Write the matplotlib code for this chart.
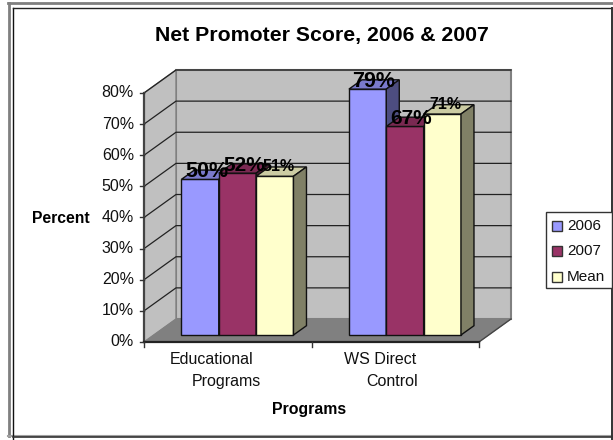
import matplotlib
matplotlib.use('Agg')
import matplotlib.pyplot as plt
from matplotlib.lines import Line2D
from matplotlib.patches import Polygon, Rectangle

plt.rcParams['font.family'] = ['Liberation Sans', 'DejaVu Sans']

# data
categories = [('Educational', 'Programs'), ('WS Direct', 'Control')]
series_names = ['2006', '2007', 'Mean']
values_2006 = [50, 79]
values_2007 = [52, 67]
values_mean = [51, 71]
label_2006 = ['50%', '79%']
label_2007 = ['52%', '67%']
label_mean = ['51%', '71%']
y_ticks = [0, 10, 20, 30, 40, 50, 60, 70, 80]

face_colors = ['#9999FF', '#993366', '#FFFFCC']
top_colors = ['#7A7ACC', '#7A2952', '#CCCCA3']
side_colors = ['#4D4D80', '#4D1A33', '#808066']

W, H = 613, 440
fig = plt.figure(figsize=(W / 100, H / 100), dpi=100)
fig.patch.set_facecolor('white')
trans = fig.transFigure


def fig_line(xs, ys, color, lw):
    fig.add_artist(Line2D([x / W for x in xs], [1 - y / H for y in ys], transform=trans,
                          color=color, lw=lw))


# the two frames around the chart, gray one behind and black one inside
fig_line([8.5, 8.5], [3, 436], '#808080', 2.0)
fig_line([8, 612], [3, 3], '#808080', 2.0)
fig_line([8, 612], [435.5, 435.5], '#A0A0A0', 1.5)
fig_line([13, 13], [8, 440], '#111111', 1.0)
fig_line([13, 612], [8, 8], '#222222', 1.0)
fig_line([13, 612], [437, 437], '#333333', 1.2)
fig_line([612, 612], [8, 440], '#333333', 1.4)

# front plane of the 3d box: x 144-479, y 342 down to 93 px
ax = fig.add_axes([144 / W, 1 - 342 / H, 335 / W, 249 / H])
ax.set_xlim(0, 2)
ax.set_ylim(0, 80)
ax.axis('off')

px_x = 2 / 335   # data units per pixel
px_y = 80 / 249
depth_x = 32 * px_x
depth_y = 23 * px_y
top = 80


def poly(pts, fc, ec='none', lw=0.0, z=1):
    ax.add_patch(Polygon(pts, closed=True, facecolor=fc, edgecolor=ec, lw=lw, zorder=z,
                         clip_on=False))


# walls and floor
poly([(depth_x, depth_y), (2 + depth_x, depth_y), (2 + depth_x, top + depth_y), (depth_x, top + depth_y)],
     '#C0C0C0', '#808080', 1.5)
poly([(0, 0), (depth_x, depth_y), (depth_x, top + depth_y), (0, top)], '#C0C0C0', '#808080', 1.0)
poly([(0, 0), (2, 0), (2 + depth_x, depth_y), (depth_x, depth_y)], '#808080', '#808080', 0.5)

# gridlines
for v in y_ticks[1:]:
    ax.plot([0, depth_x, 2 + depth_x], [v, v + depth_y, v + depth_y], color='#222222', lw=0.9,
            zorder=2, clip_on=False)

# axes lines
ax.plot([0, 0], [0, top], color='#444444', lw=1.6, zorder=6, clip_on=False)
ax.plot([0, 2], [0, 0], color='#222222', lw=1.6, zorder=6, clip_on=False)
ax.plot([2, 2 + depth_x], [0, depth_y], color='#444444', lw=1.0, zorder=2, clip_on=False)
for v in y_ticks:
    ax.plot([-4 * px_x, 0], [v, v], color='#333333', lw=1.0, zorder=6, clip_on=False)
    ax.text(-10 * px_x, v, f'{v}%', ha='right', va='center', fontsize=11.5, color='#111111')
for i in range(3):
    ax.plot([i, i], [0, -5 * px_y], color='#333333', lw=1.0, zorder=6, clip_on=False)

# bars
bar_w = 0.223
off_x = 9.7 * px_x
off_y = 7 * px_y
dx = 13 * px_x
dy = 9.3 * px_y
all_vals = [values_2006, values_2007, values_mean]
all_labels = [label_2006, label_2007, label_mean]
label_sizes = [15.5, 15, 11.5]
label_up = [3, 3, 5]      # px above the top face
label_left = [0, 0, 3]    # px

for g in range(2):
    x0 = g + 0.5 - 1.5 * bar_w
    for s in range(3):
        v = all_vals[s][g]
        xl = x0 + s * bar_w + off_x
        xr = xl + bar_w
        yb = off_y
        yt = off_y + v
        z = 10 + s
        poly([(xl, yb), (xr, yb), (xr, yt), (xl, yt)], face_colors[s], '#111111', 1.0, z)
        poly([(xl, yt), (xr, yt), (xr + dx, yt + dy), (xl + dx, yt + dy)], top_colors[s], '#111111', 1.0, z)
        poly([(xr, yb), (xr + dx, yb + dy), (xr + dx, yt + dy), (xr, yt)], side_colors[s], '#111111', 1.0, z)

for g in range(2):
    x0 = g + 0.5 - 1.5 * bar_w
    for s in range(3):
        v = all_vals[s][g]
        xc = x0 + (s + 0.5) * bar_w + off_x + dx / 2 - label_left[s] * px_x
        ax.text(xc, off_y + v + dy / 2 + label_up[s] * px_y, all_labels[s][g], ha='center', va='center',
                fontsize=label_sizes[s], fontweight='bold', color='black', zorder=30)

# category labels, second line sits further right like the reference
fig.text(211.5 / W, 1 - 359.5 / H, categories[0][0], ha='center', va='center', fontsize=11.5, color='#111111')
fig.text(226.5 / W, 1 - 381.5 / H, categories[0][1], ha='center', va='center', fontsize=11.5, color='#111111')
fig.text(380 / W, 1 - 359.5 / H, categories[1][0], ha='center', va='center', fontsize=11.5, color='#111111')
fig.text(392 / W, 1 - 381.5 / H, categories[1][1], ha='center', va='center', fontsize=11.5, color='#111111')

fig.text(309.5 / W, 1 - 409 / H, 'Programs', ha='center', va='center', fontsize=11.4, fontweight='bold')
fig.text(61 / W, 1 - 218.5 / H, 'Percent', ha='center', va='center', fontsize=11.3, fontweight='bold')
fig.text(321.5 / W, 1 - 35 / H, 'Net Promoter Score, 2006 & 2007', ha='center', va='center',
         fontsize=15.3, fontweight='bold')

# legend box by hand
fig.add_artist(Rectangle((546 / W, 1 - 287.5 / H), 66 / W, 75.5 / H, transform=trans,
                         facecolor='white', edgecolor='#333333', lw=1.0, zorder=20))
for i, name in enumerate(series_names):
    yc = 225.7 + i * 25.5
    fig.add_artist(Rectangle((552 / W, 1 - (yc + 5) / H), 10 / W, 10 / H, transform=trans,
                             facecolor=face_colors[i], edgecolor='#333333', lw=1.0, zorder=21))
    fig.text(567 / W, 1 - yc / H, name, ha='left', va='center', fontsize=11, zorder=22, color='#111111')

fig.savefig('out.png', dpi=100)
